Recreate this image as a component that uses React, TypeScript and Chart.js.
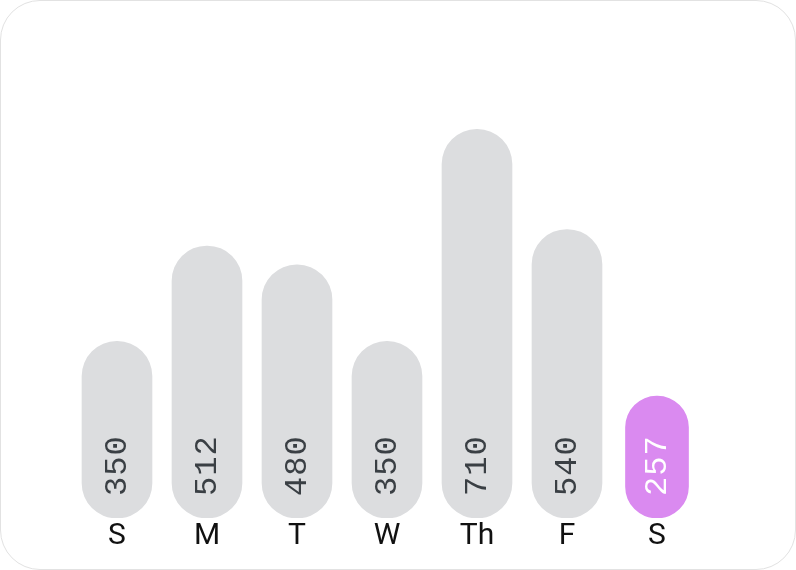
import React, { useEffect, useRef } from "react";
import { Chart, registerables } from "chart.js";

Chart.register(...registerables);

const categories = ["S", "M", "T", "W", "Th", "F", "S"];
const values = [350, 512, 480, 350, 710, 540, 257];
const highlightIndex = 6;

const GRAY = "#dcdddf";
const PURPLE = "#da8af0";

const valueLabelPlugin = {
  id: "valueLabels",
  afterDatasetsDraw(chart: any) {
    const ctx = chart.ctx;
    chart.data.datasets.forEach((ds: any, di: number) => {
      const meta = chart.getDatasetMeta(di);
      meta.data.forEach((bar: any, i: number) => {
        const v = ds.data[i];
        if (v === null || v === undefined) return;
        const { x, base } = bar.getProps(["x", "base"], true);
        ctx.save();
        ctx.translate(x, base - 22);
        ctx.rotate(-Math.PI / 2);
        ctx.font = "32px 'Liberation Mono'";
        (ctx as any).letterSpacing = "1px";
        ctx.fillStyle = i === highlightIndex ? "#ffffff" : "#3a3f44";
        ctx.textAlign = "left";
        ctx.textBaseline = "middle";
        ctx.fillText(String(v), 0, 1);
        ctx.restore();
      });
    });
  },
};

export default function App() {
  const ref = useRef<HTMLCanvasElement>(null);
  useEffect(() => {
    document.body.style.margin = "0";
    const grayData = values.map((v, i) => (i === highlightIndex ? null : v));
    const purpleData = values.map((v, i) => (i === highlightIndex ? v : null));
    const chart = new Chart(ref.current!, {
      type: "bar",
      data: {
        labels: categories,
        datasets: [
          {
            data: grayData,
            backgroundColor: GRAY,
            barThickness: 70,
            borderRadius: 35,
            borderSkipped: false,
            base: 50,
          },
          {
            data: purpleData,
            backgroundColor: PURPLE,
            barThickness: 63,
            borderRadius: 32,
            borderSkipped: false,
            base: 50,
          },
        ],
      } as any,
      options: {
        animation: false,
        responsive: true,
        maintainAspectRatio: false,
        layout: { padding: { left: 72, right: 94, top: 100, bottom: 24 } },
        plugins: { legend: { display: false }, tooltip: { enabled: false } },
        scales: {
          x: {
            stacked: true,
            grid: { display: false },
            border: { display: false },
            ticks: {
              color: "#111111",
              font: { family: "Roboto", size: 30 },
              padding: -8,
            },
          },
          y: {
            display: false,
            min: 50,
            max: 760,
          },
        },
      },
      plugins: [valueLabelPlugin],
    });
    return () => chart.destroy();
  }, []);
  return (
    <div
      style={{
        width: 796,
        height: 570,
        boxSizing: "border-box",
        border: "1px solid #e2e2e2",
        borderRadius: 40,
        background: "#fff",
        position: "relative",
        overflow: "hidden",
      }}
    >
      <div style={{ position: "absolute", left: -1, top: -1, width: 796, height: 570 }}>
        <canvas ref={ref} />
      </div>
    </div>
  );
}
